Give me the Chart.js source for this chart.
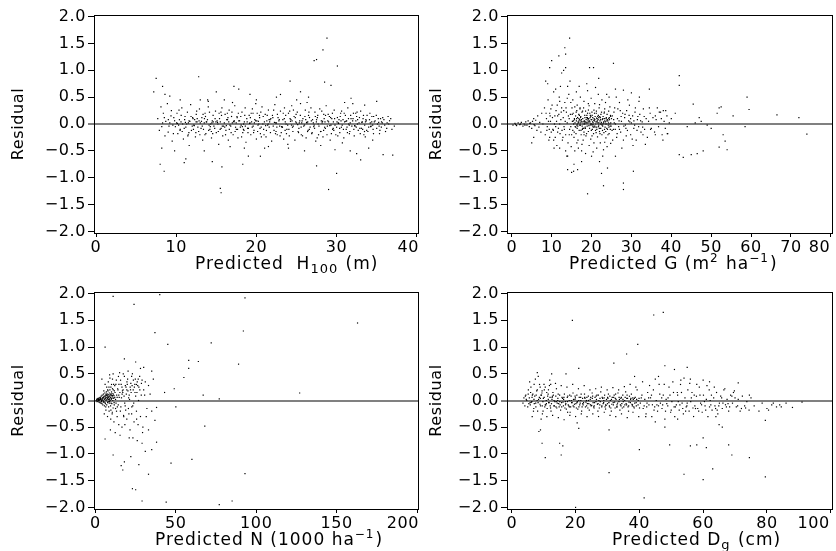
<!DOCTYPE html>
<html>
<head>
<meta charset="utf-8">
<script src="https://cdn.jsdelivr.net/npm/chart.js@4"></script>
<style>
  html, body { margin: 0; padding: 0; background: #fff; overflow: hidden; }
  #wrap { position: relative; width: 836px; height: 551px; }
  canvas { position: absolute; }
</style>
</head>
<body>
<div id="wrap">
  <canvas id="c1" width="440" height="278" style="left:0px;top:0px"></canvas>
  <canvas id="c2" width="418" height="278" style="left:418px;top:0px"></canvas>
  <canvas id="c3" width="440" height="276" style="left:0px;top:275px"></canvas>
  <canvas id="c4" width="418" height="276" style="left:418px;top:275px"></canvas>
</div>
<script>
// residual y-axis, shared by the four panels
var yTickValues = [-2, -1.5, -1, -0.5, 0, 0.5, 1, 1.5, 2];
var yTickLabels = ['\u22122.0', '\u22121.5', '\u22121.0', '\u22120.5', '0.0', '0.5', '1.0', '1.5', '2.0'];

var h100Ticks = [0, 10, 20, 30, 40];
var h100TickLabels = ['0', '10', '20', '30', '40'];
var gTicks = [0, 10, 20, 30, 40, 50, 60, 70, 80];
var gTickLabels = ['0', '10', '20', '30', '40', '50', '60', '70', '80'];
var nTicks = [0, 50, 100, 150, 200];
var nTickLabels = ['0', '50', '100', '150', '200'];
var dgTicks = [0, 20, 40, 60, 80, 100];
var dgTickLabels = ['0', '20', '40', '60', '80', '100'];

// predicted H100 (m), residual
var h100Points = [
[7.2,0.6],[7.5,0.85],[8.3,0.7],[8.6,0.55],[9.2,0.52],[12.8,0.88],[15.0,0.6],[16.0,0.45],[17.2,0.7],[17.8,0.65],[19.2,0.55],[22.5,0.5],[23.0,0.55],[24.2,0.8],[25.5,0.6],[26.5,0.5],[27.2,1.18],[27.5,1.2],[28.3,1.38],[28.8,1.6],[28.5,0.78],[29.3,0.72],[30.1,1.08],[31.8,0.48],[35.0,0.42],
[8.0,-0.75],[8.5,-0.88],[8.2,-0.45],[9.8,-0.5],[11.0,-0.72],[11.2,-0.65],[13.5,-0.5],[14.5,-0.7],[15.5,-1.2],[15.6,-1.28],[15.7,-0.8],[18.3,-0.75],[19.0,-0.6],[20.5,-0.6],[27.5,-0.78],[29.0,-1.22],[30.0,-0.92],[31.7,-0.5],[32.5,-0.55],[33.0,-0.67],[35.8,-0.57],[37.0,-0.58],[10.5,0.45],[14.0,0.42],[18.5,-0.45],[21.5,-0.42],[24.0,-0.45],[26.0,-0.5],[29.8,-0.48],[34.0,-0.45],[13.0,0.45],[20.0,0.45],[31.0,0.4],[33.5,0.35],[34.5,-0.3],
[7.7,0.1],[7.9,-0.12],[8.1,0.32],[8.2,-0.05],[8.4,0.2],[8.6,-0.22],[8.7,0.05],[8.9,0.38],[9.0,-0.15],[9.2,0.02],[9.4,0.25],[9.5,-0.32],[9.7,0.12],[9.9,-0.05],[10.1,0.2],[10.2,-0.18],[10.4,0.08],[10.5,-0.1],[10.7,0.3],[10.8,0.0],[10.9,-0.28],[11.1,0.14],[11.2,-0.06],[11.4,0.22],[11.5,-0.2],[11.7,0.05],[11.8,0.36],[11.9,-0.12],[12.1,0.1],[12.2,-0.02],[12.4,-0.24],[12.5,0.18],[12.6,0.04],[12.8,-0.14],[12.9,0.28],[13.1,-0.08],[13.2,0.12],[13.3,-0.3],[13.5,0.02],[13.6,0.2],[13.7,-0.18],[13.9,0.08],[14.0,0.32],[14.2,-0.1],[14.3,0.0],[14.4,-0.26],[14.6,0.16],[14.7,-0.04],[14.9,0.24],[15.0,-0.16],[15.1,0.06],[15.3,-0.38],[15.4,0.1],[15.6,-0.08],[15.7,0.3],[15.8,-0.22],[16.0,0.02],[16.1,0.18],[16.2,-0.12],[16.4,0.08],[16.5,-0.3],[16.6,0.26],[16.8,-0.04],[16.9,0.14],[17.1,-0.2],[17.2,0.04],[17.3,0.34],[17.5,-0.1],[17.6,0.12],[17.7,-0.26],[17.9,0.06],[18.0,-0.06],[18.2,0.22],[18.3,-0.16],[18.4,0.0],[18.6,0.3],[18.7,-0.34],[18.8,0.1],[19.0,-0.08],[19.1,0.16],[19.3,-0.2],[19.4,0.04],[19.5,0.28],[19.7,-0.12],[19.8,0.08],[20.0,-0.28],[20.1,0.2],[20.2,-0.02],[20.4,0.12],[20.5,-0.18],[20.7,0.32],[20.8,0.0],[20.9,-0.1],[21.1,0.18],[21.2,-0.24],[21.3,0.06],[21.5,0.26],[21.6,-0.06],[21.8,0.1],[21.9,-0.32],[22.0,0.16],[22.2,-0.12],[22.3,0.36],[22.4,0.02],[22.6,-0.2],[22.7,0.12],[22.9,-0.04],[23.0,0.24],[23.1,-0.16],[23.3,0.08],[23.4,-0.28],[23.5,0.3],[23.7,0.0],[23.8,-0.1],[24.0,0.2],[24.1,-0.22],[24.2,0.1],[24.4,0.34],[24.5,-0.06],[24.7,0.14],[24.8,-0.3],[24.9,0.04],[25.1,0.22],[25.2,-0.14],[25.4,0.06],[25.5,0.38],[25.6,-0.2],[25.8,0.1],[25.9,-0.04],[26.1,0.26],[26.2,-0.26],[26.3,0.02],[26.5,0.16],[26.6,-0.1],[26.8,0.3],[26.9,-0.18],[27.0,0.08],[27.2,-0.02],[27.3,0.22],[27.4,-0.32],[27.6,0.12],[27.7,0.0],[27.9,0.28],[28.0,-0.14],[28.1,0.06],[28.3,-0.24],[28.4,0.18],[28.5,-0.06],[28.7,0.34],[28.8,-0.2],[29.0,0.04],[29.1,0.14],[29.2,-0.3],[29.4,0.1],[29.5,-0.1],[29.7,0.26],[29.8,-0.02],[29.9,-0.2],[30.1,0.12],[30.2,0.02],[30.4,-0.16],[30.5,0.2],[30.6,-0.06],[30.8,0.08],[30.9,-0.26],[31.1,0.16],[31.2,-0.1],[31.4,0.3],[31.5,0.0],[31.6,-0.18],[31.8,0.1],[31.9,-0.04],[32.1,0.2],[32.2,-0.22],[32.4,0.06],[32.5,0.14],[32.7,-0.12],[32.8,0.02],[33.0,0.24],[33.1,-0.08],[33.3,0.1],[33.4,-0.2],[33.6,0.04],[33.8,0.16],[33.9,-0.14],[34.1,0.08],[34.3,-0.04],[34.4,0.14],[34.6,-0.18],[34.8,0.06],[35.0,-0.08],[35.2,0.1],[35.4,-0.12],[35.6,0.04],[35.9,0.08],[36.1,-0.14],[36.3,0.02],[36.6,0.06],[36.9,-0.1],[37.2,-0.04],
[8.3,0.02],[9.1,-0.04],[9.8,0.06],[10.3,-0.02],[10.6,0.04],[11.0,-0.08],[11.3,0.0],[11.6,0.06],[12.0,-0.04],[12.3,0.08],[12.7,-0.06],[13.0,0.02],[13.4,-0.1],[13.8,0.04],[14.1,-0.02],[14.5,0.06],[14.8,-0.08],[15.2,0.0],[15.5,0.04],[15.9,-0.04],[16.3,0.08],[16.7,-0.02],[17.0,0.02],[17.4,-0.06],[17.8,0.06],[18.1,-0.02],[18.5,0.04],[18.9,-0.08],[19.2,0.02],[19.6,-0.04],[19.9,0.06],[20.3,0.0],[20.6,-0.06],[21.0,0.04],[21.4,-0.02],[21.7,0.08],[22.1,-0.04],[22.5,0.02],[22.8,0.06],[23.2,-0.06],[23.6,0.04],[23.9,-0.02],[24.3,0.08],[24.6,-0.04],[25.0,0.02],[25.3,-0.08],[25.7,0.06],[26.0,-0.02],[26.4,0.04],[26.7,-0.06],[27.1,0.02],[27.5,0.08],[27.8,-0.04],[28.2,0.02],[28.6,-0.08],[28.9,0.06],[29.3,-0.02],[29.6,0.04],[30.0,-0.06],[30.3,0.08],[30.7,-0.02],[31.0,0.04],[31.3,-0.06],[31.7,0.02],[32.0,0.06],[32.3,-0.04],[32.6,0.0],[32.9,-0.08],[33.2,0.04],[33.5,-0.02],[33.7,0.06],[34.0,-0.06],[34.2,0.02],[34.5,-0.02],[34.7,0.04],[35.1,0.0],[35.3,-0.04],[35.7,0.02],[36.0,-0.02],[36.5,0.0],
[12.05,0.12],[12.45,-0.16],[12.85,0.06],[13.25,-0.04],[13.65,0.14],[14.05,-0.12],[14.45,0.02],[14.85,0.1],[15.25,-0.14],[15.65,0.16],[16.05,-0.06],[16.45,0.12],[16.85,-0.16],[17.25,0.06],[17.65,-0.1],[18.05,0.14],[18.45,-0.12],[18.85,0.04],[19.25,0.12],[19.65,-0.16],[20.05,0.06],[20.45,-0.08],[20.85,0.14],[21.25,-0.12],[21.65,0.04],[22.05,0.12],[22.45,-0.14],[22.85,0.08],[23.25,-0.06],[23.65,0.16],[24.05,-0.1],[24.45,0.06],[24.85,0.12],[25.25,-0.16],[25.65,0.02],[26.05,0.14],[26.45,-0.12],[26.85,0.06],[27.25,-0.08],[27.65,0.16],[28.05,-0.14],[28.45,0.1],[28.85,-0.04],[29.25,0.12],[29.65,-0.12],[30.05,0.04],[30.45,0.14],[30.85,-0.1],[31.25,0.06],[31.65,-0.14],[32.05,0.1],[32.45,-0.06],[32.85,0.12],[33.25,-0.1],[33.65,0.08],
[9.35,0.15],[9.65,-0.18],[10.05,0.02],[10.35,0.26],[10.75,-0.14],[11.05,0.08],[11.45,-0.22],[11.85,0.14],[12.15,-0.1],[12.55,0.24],[12.95,-0.2],[13.35,0.18],[13.75,0.04],[14.15,0.22],[14.55,-0.18],[14.95,0.04],[15.35,0.2],[15.75,-0.04],[16.15,-0.2],[16.55,0.04],[16.95,0.22],[17.35,-0.14],[17.75,0.2],[18.15,-0.24],[18.55,0.16],[18.95,-0.16],[19.35,0.2],[19.75,0.02],[20.15,-0.14],[20.55,0.22],[20.95,-0.2],[21.35,0.16],[21.75,-0.16],[22.15,0.26],[22.55,-0.06],[22.95,-0.22],[23.35,0.2],[23.75,-0.18],[24.15,0.24],[24.55,-0.14],[24.95,0.18],[25.35,0.02],[25.75,-0.22],[26.15,0.08],[26.55,0.22],[26.95,-0.16],[27.35,0.14],[27.75,-0.2],[28.15,0.24],[28.55,0.04],[28.95,0.18],[29.35,-0.18],[29.75,0.1],[30.15,-0.22],[30.55,0.06],[30.95,0.2],[31.35,-0.16],[31.75,0.16],[32.15,-0.1],[32.55,0.22],[32.95,-0.18],[33.35,0.16],[33.75,-0.12],[34.15,0.2],[34.55,-0.1],[34.95,0.16],[35.35,-0.18],[35.75,0.12],[36.25,-0.08],[36.75,0.1],
[10.15,0.01],[11.15,0.03],[12.25,-0.03],[13.15,0.05],[14.25,-0.05],[15.15,0.03],[16.25,-0.03],[17.15,0.05],[18.25,-0.05],[19.15,0.01],[20.25,0.05],[21.15,-0.03],[22.25,0.03],[23.15,-0.05],[24.25,0.05],[25.15,-0.01],[26.25,0.03],[27.15,-0.05],[28.25,0.05],[29.15,-0.03],[30.25,0.01],[31.15,0.05],[32.25,-0.03],[33.15,0.03],[34.25,-0.05],[35.25,0.03],
[8.52,0.12],[9.58,-0.02],[10.62,0.16],[11.58,-0.16],[12.62,0.1],[13.58,-0.2],[14.62,0.04],[15.58,0.22],[16.62,-0.1],[17.58,0.14],[18.62,-0.04],[19.58,0.2],[20.62,-0.24],[21.58,0.08],[22.62,0.18],[23.58,-0.12],[24.62,0.26],[25.58,-0.06],[26.62,0.12],[27.58,-0.26],[28.62,0.16],[29.58,-0.08],[30.62,0.24],[31.58,-0.02],[32.62,0.08],[33.58,-0.24],[34.62,0.14],[35.58,-0.06],[36.42,0.14],[9.02,0.08],[10.48,-0.12],[11.52,0.02],[12.48,0.04],[13.52,0.1],[14.38,-0.14],[15.48,-0.1],[16.38,0.2],[17.48,0.02],[18.38,-0.1],[19.48,-0.06],[20.38,0.16],[21.48,0.0],[22.38,-0.18],[23.48,0.1],[24.38,-0.02],[25.48,0.16],[26.38,-0.14],[27.48,0.04],[28.38,-0.12],[29.48,0.2],[30.38,-0.08],[31.48,0.1],[32.38,0.2],[33.48,-0.14],[34.38,0.04],[35.48,0.1],[13.92,0.45],[17.02,0.4],[21.02,-0.45],[25.02,0.45],[28.02,-0.4],[32.02,0.38],[11.62,-0.4],[19.92,0.38],[23.92,-0.38],[30.72,-0.35],[26.32,0.4],[16.72,-0.42]
];

// predicted G (m2/ha), residual
var gPoints = [
[0.3,-0.02],[0.8,0.01],[1.2,-0.03],[1.6,0.02],[2.0,-0.01],[2.4,0.03],[2.8,-0.04],[3.1,0.0],[3.5,0.04],[3.8,-0.02],[4.1,0.06],[4.4,-0.05],[4.7,0.02],[5.0,-0.08],[5.2,0.05],[5.5,0.1],[5.8,-0.03],[6.0,0.07],[6.3,-0.12],[6.5,0.15],[6.8,-0.06],[7.0,0.03],[7.3,-0.15],[7.5,0.2],[7.8,0.0],[1.0,-0.01],[2.2,0.0],[3.3,-0.02],[4.5,0.01],[5.6,-0.01],
[8.2,0.3],[8.4,-0.2],[8.7,0.1],[8.9,-0.05],[9.1,0.45],[9.3,-0.3],[9.5,0.2],[9.7,0.05],[9.9,-0.15],[10.1,0.35],[10.3,-0.1],[10.5,0.6],[10.7,0.0],[10.9,-0.25],[11.1,0.25],[11.3,-0.4],[11.5,0.15],[11.7,-0.08],[11.9,0.5],[12.1,-0.18],[12.3,0.08],[12.5,0.3],[12.7,-0.3],[12.9,0.12],[13.1,-0.05],[13.3,0.4],[13.5,-0.2],[13.7,0.22],[13.9,0.02],[14.1,-0.35],[14.3,0.55],[14.5,-0.1],[14.7,0.18],[14.9,-0.42],[15.1,0.3],[8.6,0.2],[9.4,-0.1],[10.2,0.12],[11.0,-0.05],[11.8,0.18],[12.6,-0.12],[13.4,0.05],[14.2,0.15],[15.0,-0.2],[10.6,-0.45],[12.2,0.7],[13.8,-0.6],[14.6,0.8],[11.4,0.35],[9.8,0.28],
[15.2,0.05],[15.3,-0.12],[15.4,0.2],[15.5,0.0],[15.6,-0.25],[15.7,0.1],[15.8,0.32],[15.9,-0.05],[16.0,0.15],[16.1,-0.18],[16.2,0.06],[16.3,0.25],[16.4,-0.08],[16.5,0.12],[16.6,-0.3],[16.7,0.02],[16.8,0.18],[16.9,-0.12],[17.0,0.08],[17.1,0.28],[17.2,-0.02],[17.3,0.14],[17.4,-0.2],[17.5,0.04],[17.6,0.22],[17.7,-0.1],[17.8,0.1],[17.9,0.0],[18.0,0.3],[18.1,-0.15],[18.2,0.06],[18.3,0.16],[18.4,-0.06],[18.5,0.24],[18.6,-0.22],[18.7,0.02],[18.8,0.12],[18.9,-0.04],[19.0,0.2],[19.1,0.06],[19.2,-0.14],[19.3,0.1],[19.4,0.34],[19.5,-0.08],[19.6,0.04],[19.7,0.16],[19.8,-0.28],[19.9,0.08],[20.0,0.0],[20.1,0.22],[20.2,-0.1],[20.3,0.12],[20.4,0.02],[20.5,-0.18],[20.6,0.26],[20.7,0.06],[20.8,-0.04],[20.9,0.14],[21.0,-0.12],[21.1,0.04],[21.2,0.2],[21.3,-0.06],[21.4,0.1],[21.5,-0.24],[21.6,0.02],[21.7,0.16],[21.8,-0.02],[21.9,0.3],[22.0,-0.14],[22.1,0.06],[22.2,0.12],[22.3,-0.08],[22.4,0.0],[22.5,0.22],[22.6,-0.2],[22.7,0.08],[22.8,-0.04],[22.9,0.14],[23.0,0.02],[23.1,-0.16],[23.2,0.1],[23.3,0.28],[23.4,-0.06],[23.5,0.04],[23.6,-0.26],[23.7,0.12],[23.8,0.0],[23.9,0.18],[24.0,-0.1],[24.1,0.06],[24.2,-0.02],[24.3,0.24],[24.4,-0.18],[24.5,0.08],[24.6,0.0],[24.7,-0.1],[24.8,0.14],[24.9,-0.04],[25.0,0.1],
[15.45,0.06],[15.85,0.02],[16.25,0.1],[16.65,0.04],[17.05,-0.02],[17.45,0.08],[17.85,0.04],[18.25,0.0],[18.65,0.08],[19.05,0.02],[19.45,0.06],[19.85,-0.02],[20.25,0.04],[20.65,0.1],[21.05,0.0],[21.45,0.06],[21.85,0.02],[22.25,0.08],[22.65,-0.02],[23.05,0.04],[23.45,0.0],[23.85,0.06],[24.25,0.02],[24.65,-0.04],[16.05,-0.06],[17.25,0.12],[18.45,-0.08],[19.65,0.12],[20.85,-0.06],[22.05,0.14],[23.25,-0.1],[24.45,0.12],[18.15,0.05],[19.35,-0.03],[20.55,0.07],[21.75,-0.05],[16.85,0.06],[17.65,-0.04],[19.15,0.09],[20.35,-0.01],[21.25,0.11],[22.45,0.03],
[15.3,0.45],[15.8,-0.5],[16.2,0.6],[16.7,-0.45],[17.2,0.5],[17.6,-0.38],[18.1,0.42],[18.5,-0.55],[19.0,0.62],[19.4,-0.4],[19.9,0.48],[20.4,-0.52],[20.8,0.38],[21.3,-0.45],[21.7,0.55],[22.2,-0.35],[22.6,0.45],[23.0,-0.48],[23.5,0.4],[23.9,-0.42],[24.4,0.5],[24.8,-0.36],[16.4,0.35],[17.9,-0.3],[19.2,0.38],[20.6,-0.35],[22.0,0.36],[23.3,-0.34],[24.6,0.32],[15.6,-0.75],[17.5,-0.7],[21.0,0.68],[23.8,0.55],[18.8,0.75],[22.8,-0.6],[16.9,0.7],
[25.2,0.15],[25.5,-0.1],[25.8,0.3],[26.0,0.0],[26.3,-0.25],[26.5,0.1],[26.8,-0.05],[27.0,0.4],[27.3,-0.15],[27.5,0.05],[27.8,0.2],[28.0,-0.3],[28.3,0.12],[28.5,-0.02],[28.8,0.25],[29.0,-0.12],[29.3,0.06],[29.5,0.35],[29.8,-0.2],[30.0,0.02],[30.3,0.15],[30.6,-0.08],[30.9,0.22],[31.2,-0.3],[31.5,0.08],[31.8,-0.05],[32.1,0.18],[32.4,-0.15],[32.7,0.04],[33.0,0.28],[33.3,-0.1],[33.7,0.1],[34.0,-0.25],[34.3,0.05],[34.7,0.2],[35.0,-0.08],[35.4,0.12],[35.8,-0.15],[26.2,0.5],[27.6,-0.45],[29.1,0.45],[30.4,-0.4],[31.9,0.42],[33.5,-0.38],[25.7,0.02],[26.9,0.06],[28.1,-0.04],[29.6,0.04],[30.8,-0.02],[32.3,0.06],[25.3,-0.3],[27.2,0.25],[28.7,-0.22],[31.0,0.3],[32.9,-0.2],[34.5,0.3],
[36.2,0.08],[36.8,-0.05],[37.3,0.22],[37.7,-0.2],[38.2,0.05],[38.6,0.25],[39.1,-0.18],[39.5,0.02],[36.5,0.3],[37.9,-0.3],[38.9,0.15],
[14.4,0.1],[14.8,-0.05],[15.15,0.18],[15.65,-0.15],[16.15,0.22],[16.55,-0.04],[16.95,0.16],[17.35,-0.12],[17.75,0.24],[18.05,-0.08],[18.35,0.12],[18.75,-0.18],[19.05,0.1],[19.55,0.2],[19.95,-0.12],[20.15,0.16],[20.45,-0.06],[20.75,0.2],[21.15,-0.16],[21.55,0.14],[21.95,-0.08],[22.35,0.18],[22.75,-0.12],[23.15,0.2],[23.55,-0.14],[23.95,0.08],[24.35,-0.06],[24.75,0.16],[25.15,-0.12],[25.55,0.08],[25.95,-0.1],[17.15,0.02],[18.55,0.04],[19.75,0.0],[21.35,0.04],[22.85,0.0],[20.05,0.08],[18.95,0.12],[21.65,0.08],[16.45,0.0],[23.65,0.1],[11.5,-0.15],[12.4,0.22],[13.2,-0.1],[13.6,0.3],[14.8,0.4],[10.8,0.15],[9.2,0.05],[8.8,-0.12],[12.0,0.0],[27.0,-0.1],[28.4,0.18],[29.8,0.1],[31.4,-0.12],[33.2,0.14],[26.6,0.28],[30.2,-0.28],[34.8,-0.1],[36.0,-0.2],[37.5,0.1],
[15.72,0.08],[16.32,-0.02],[16.82,0.1],[17.32,0.06],[17.82,-0.08],[18.32,0.02],[18.82,0.16],[19.32,0.04],[19.82,0.14],[20.32,-0.04],[20.82,0.08],[21.32,-0.1],[21.82,0.12],[22.32,0.0],[22.82,0.1],[23.32,0.06],[23.82,-0.08],[24.32,0.1],[24.82,0.02],[18.12,-0.2],[19.22,0.26],[20.12,-0.22],[21.22,0.24],[22.12,-0.18],[23.22,0.22],[17.12,0.3],[24.12,-0.2],[16.32,-0.35],[25.62,0.22],[26.42,-0.18],[27.42,0.14],[28.62,-0.08],[29.42,0.16],[30.62,0.06],[31.62,0.14],[32.82,-0.06],[11.22,0.05],[12.82,-0.25],[13.02,0.25],[14.42,-0.2],[10.42,-0.12],[9.62,0.15],[12.02,0.42],[13.92,0.48],
[14.5,1.6],[13.3,1.42],[13.5,1.3],[11.8,1.27],[10.0,1.18],[9.5,1.05],[13.5,1.05],[13.0,1.0],[12.5,0.95],[19.5,1.05],[20.5,1.05],[25.5,1.13],[21.8,0.85],[8.5,0.8],[9.0,0.75],[11.0,0.65],[14.0,0.7],[26.0,0.65],[28.0,0.63],[30.0,0.58],[34.5,0.65],[32.0,0.5],
[14.0,-0.85],[15.0,-0.9],[15.5,-0.88],[16.5,-0.85],[20.0,-0.6],[22.0,-0.7],[24.0,-0.82],[22.5,-0.92],[23.0,-1.15],[19.0,-1.3],[28.0,-1.1],[28.0,-1.22],[30.5,-0.88],[26.0,-0.6],[13.5,-0.5],[14.0,-0.6],[17.5,-0.5],[12.0,-0.45],[10.5,-0.3],[9.5,-0.25],[5.0,-0.35],[5.5,-0.25],
[42.0,0.9],[42.0,0.72],[45.5,0.37],[46.0,0.02],[47.0,0.12],[43.0,-0.62],[42.0,-0.57],[45.0,-0.57],[46.5,-0.55],[48.0,-0.5],[51.5,0.2],[52.0,0.3],[52.5,0.32],[53.0,-0.2],[52.0,-0.43],[53.5,-0.32],[54.0,-0.48],[55.5,0.15],[58.5,-0.05],[59.0,0.5],[59.5,0.27],[66.5,0.17],[72.0,0.12],[74.0,-0.19],[40.0,0.1],[41.0,0.2],[44.0,-0.05],[49.0,-0.02],[50.0,-0.08],[47.5,0.05],[38.0,0.25],[39.0,-0.18],[37.0,0.22],[36.0,0.15],[38.5,-0.08]
];

// predicted N (1000/ha), residual
var nPoints = [
[0.5,0.0],[0.8,0.02],[1.0,-0.02],[1.2,0.03],[1.5,-0.01],[1.7,0.04],[2.0,0.0],[2.2,-0.03],[2.4,0.05],[2.6,0.01],[2.8,-0.04],[3.0,0.06],[3.2,0.02],[3.4,-0.05],[3.6,0.08],[3.8,0.0],[4.0,-0.06],[4.2,0.1],[4.4,0.03],[4.6,-0.08],[4.8,0.06],[5.0,0.12],[5.2,-0.02],[5.4,0.08],[5.6,-0.1],[5.8,0.14],[6.0,0.04],[6.2,-0.06],[6.4,0.1],[6.6,0.0],[6.8,0.16],[7.0,-0.08],[7.2,0.06],[7.4,0.12],[7.6,-0.04],[7.8,0.18],[8.0,0.02],[8.2,-0.12],[8.4,0.08],[8.6,0.14],[8.8,-0.02],[9.0,0.2],[9.2,0.06],[9.4,-0.1],[9.6,0.1],[9.8,0.02],[10.0,0.16],[10.2,-0.06],[10.4,0.08],[10.6,0.22],[10.8,0.0],[11.0,-0.14],[11.2,0.12],[11.4,0.04],[11.6,-0.04],[11.8,0.18],[12.0,0.06],
[3.1,0.04],[4.1,0.02],[5.1,0.05],[6.1,0.08],[7.1,0.02],[8.1,0.06],[9.1,0.0],[10.1,0.04],[5.5,0.02],[6.5,0.06],[7.5,0.04],[8.5,0.02],[9.5,0.05],[6.9,0.1],[7.9,-0.02],[8.9,0.08],[4.7,0.0],[5.9,-0.04],[7.3,0.09],[8.7,0.03],[9.9,0.1],[10.9,0.05],[11.5,0.09],[12.5,0.02],[2.5,0.01],[3.5,0.03],[1.9,0.02],[6.7,0.12],[8.3,0.11],[9.7,-0.05],[4.9,-0.03],[10.3,0.13],[11.7,-0.08],
[1.4,0.01],[2.1,0.03],[2.9,0.02],[3.7,-0.02],[4.3,0.05],[5.3,0.07],[6.3,0.03],[7.7,0.07],[8.6,-0.05],[9.3,0.12],[10.7,0.09],[11.1,0.2],[12.2,0.15],[13.5,0.06],[14.5,0.1],[6.4,-0.12],[7.6,0.2],[8.4,0.25],[9.6,-0.18],[10.4,-0.25],[5.2,0.18],[12.7,0.3],[13.1,-0.2],[16.5,0.25],[19.5,0.2],[22.5,0.45],[25.5,0.3],
[19.6,0.35],[21.6,0.25],[23.6,0.38],[24.6,0.15],[26.6,0.4],[27.6,0.2],[28.6,0.32],[20.6,0.05],[22.6,-0.12],[18.6,0.28],[16.6,0.12],[14.6,0.3],[13.6,-0.12],[15.6,0.38],[17.6,-0.3],[25.6,-0.35],[30.6,0.1],[31.6,-0.3],[10.6,0.4],[9.6,0.25],
[5.5,-0.25],[6.0,0.3],[6.5,-0.18],[7.0,0.25],[7.5,-0.3],[8.0,0.35],[8.5,-0.2],[9.0,0.42],[9.5,-0.35],[10.0,0.3],[10.5,-0.22],[11.0,0.5],[11.5,-0.4],[12.0,0.28],[12.5,-0.15],[13.0,0.38],[13.5,-0.3],[14.0,0.2],[14.5,-0.45],[15.0,0.52],[15.5,-0.2],[16.0,0.3],[16.5,-0.5],[17.0,0.15],[17.5,-0.28],[18.0,0.45],[18.5,-0.1],[19.0,0.25],[19.5,-0.35],[20.0,0.4],[20.5,-0.15],[21.0,0.1],[21.5,-0.55],[22.0,0.32],[22.5,-0.25],[23.0,0.5],[23.5,0.2],[24.0,-0.4],[24.5,0.3],[25.0,0.08],[25.5,-0.2],[26.0,0.35],[26.5,-0.45],[27.0,0.25],[27.5,0.45],[28.0,-0.3],[28.5,0.1],[29.0,0.38],[29.5,-0.5],[30.0,0.2],[31.0,0.35],[32.0,-0.15],[33.0,0.28],[34.0,0.12],[35.0,-0.2],[36.0,0.4],
[13.2,0.1],[14.2,-0.08],[15.2,0.15],[16.2,0.05],[17.2,0.2],[18.2,-0.05],[19.2,0.12],[20.2,0.18],[21.2,0.02],[22.2,0.15],[23.2,-0.1],[24.2,0.25],[12.8,-0.05],[13.8,0.22],[14.8,0.06],[15.8,-0.12],[16.8,0.18],[17.8,0.08],[18.8,-0.18],[19.8,0.3],[20.8,-0.25],[21.8,0.2],[22.8,0.28],[23.8,-0.05],[24.8,0.4],[25.8,0.15],[26.8,0.0],[9.3,-0.55],[12.3,-0.6],[15.3,-0.65],[18.3,-0.45],[8.8,0.48],[11.3,0.3],[14.3,0.45],[17.3,0.5],[20.3,0.55],[23.3,-0.7],[26.3,0.28],[29.3,-0.6],
[11.0,1.95],[24.0,1.8],[40.0,1.98],[93.0,1.92],[163.0,1.45],[37.0,1.27],[92.0,1.3],[45.0,1.05],[72.0,1.08],[6.0,1.0],[58.0,0.75],[64.0,0.73],[89.0,0.68],[58.0,0.6],[55.0,0.43],[49.0,0.22],[67.0,0.1],[77.0,0.03],[127.0,0.14],[43.0,0.15],[18.0,0.78],[4.0,0.4],[28.0,0.6],[30.0,0.62],[35.0,0.55],[25.0,0.72],
[50.0,-0.12],[38.0,-0.13],[37.0,-0.37],[38.0,-0.78],[33.0,-0.55],[35.0,-0.92],[31.0,-0.95],[47.0,-1.17],[60.0,-1.1],[68.0,-0.48],[93.0,-1.37],[33.0,-1.38],[11.0,-1.02],[16.0,-1.22],[17.0,-1.3],[18.0,-1.15],[23.0,-1.65],[25.0,-1.67],[27.0,-1.2],[29.0,-1.88],[44.0,-1.9],[77.0,-1.95],[85.0,-1.88],[6.0,-0.72],[22.0,-1.05],[21.0,-0.7],[26.0,-0.75],[29.0,-0.8]
];

// predicted Dg (cm), residual
var dgPoints = [
[3.5,-0.05],[3.8,0.05],[4.1,-0.1],[4.4,0.1],[4.7,0.0],[5.0,-0.12],[5.2,0.2],[5.5,0.05],[5.8,-0.08],[6.0,0.25],[6.3,-0.02],[6.6,0.12],[6.9,-0.15],[7.2,0.08],[7.5,-0.05],[7.8,0.18],[8.1,-0.2],[8.4,0.02],[8.7,0.3],[9.0,-0.1],[9.3,0.1],[9.6,-0.25],[9.9,0.04],[10.2,0.2],[10.5,-0.08],[10.8,0.0],[11.1,-0.15],[11.4,0.12],[11.7,-0.04],[12.0,0.06],[12.3,-0.2],[12.6,0.02],[12.9,0.15],[13.2,-0.1],[13.5,-0.02],[13.8,0.08],[14.1,-0.14],[14.4,0.0],[14.7,-0.06],[15.0,0.1],[15.3,-0.18],[15.6,-0.04],[15.9,0.04],[16.2,-0.1],[16.5,0.12],[16.8,-0.02],[17.1,-0.16],[17.4,0.06],[17.7,-0.08],[18.0,0.0],[18.3,-0.22],[18.6,0.08],[18.9,-0.04],[19.2,0.14],[19.5,-0.12],[19.8,0.02],[20.1,-0.06],[20.4,0.1],[20.7,-0.16],[21.0,0.0],[21.3,-0.08],[21.6,0.06],[21.9,-0.2],[22.2,0.04],[22.5,-0.04],[22.8,0.12],[23.1,-0.12],[23.4,0.0],[23.7,-0.06],[24.0,0.08],[24.3,-0.18],[24.6,0.02],[24.9,-0.1],[25.2,0.14],[25.5,-0.04],[25.8,-0.14],[26.1,0.06],[26.4,-0.02],[26.7,0.1],[27.0,-0.2],[27.3,0.0],[27.6,-0.08],[27.9,0.16],[28.2,-0.12],[28.5,0.04],[28.8,-0.04],[29.1,0.1],[29.4,-0.16],[29.7,0.02],[30.0,-0.06],[30.3,0.12],[30.6,-0.1],[30.9,0.0],[31.2,-0.2],[31.5,0.06],[31.8,-0.04],[32.1,0.1],[32.4,-0.14],[32.7,0.02],[33.0,-0.08],[33.3,0.14],[33.6,-0.02],[33.9,-0.18],[34.2,0.04],[34.5,-0.06],[34.8,0.1],[35.1,-0.12],[35.4,0.0],[35.7,0.16],[36.0,-0.08],[36.3,0.04],[36.6,-0.2],[36.9,0.08],[37.2,-0.04],[37.5,0.12],[37.8,-0.1],[38.1,0.02],[38.4,-0.14],[38.7,0.06],[39.0,-0.04],[39.3,0.2],[39.6,-0.08],[39.9,0.04],
[6.15,-0.03],[7.05,-0.06],[7.95,0.0],[8.85,-0.07],[9.75,-0.02],[10.65,-0.08],[11.55,-0.04],[12.45,-0.06],[13.35,-0.1],[14.25,-0.05],[15.15,-0.08],[16.05,-0.03],[16.95,-0.06],[17.85,-0.1],[18.75,-0.04],[19.65,-0.07],[20.55,-0.02],[21.45,-0.05],[22.35,-0.08],[23.25,-0.03],[24.15,-0.06],[25.05,-0.09],[25.95,-0.04],[26.85,-0.07],[27.75,-0.02],[28.65,-0.06],[29.55,-0.09],[30.45,-0.04],[31.35,-0.07],[32.25,-0.03],[33.15,-0.05],[34.05,-0.08],[34.95,-0.02],[35.85,-0.06],[36.75,-0.03],[37.65,-0.07],[38.55,-0.05],[9.15,0.1],[10.95,0.15],[12.75,0.08],[14.55,0.12],[16.35,0.06],[18.15,0.1],[19.95,0.05],[21.75,0.12],[23.55,0.06],[25.35,0.08],[27.15,0.1],[28.95,0.05],[30.75,0.08],[32.55,0.12],[34.35,0.06],[36.15,0.1],[37.95,0.05],
[4.25,0.08],[5.35,-0.06],[6.45,0.1],[7.55,-0.12],[8.65,0.06],[9.45,0.14],[10.35,-0.12],[11.25,0.08],[12.15,-0.14],[13.05,0.1],[13.95,-0.02],[14.85,-0.12],[15.75,0.06],[16.65,-0.14],[17.55,0.08],[18.45,-0.12],[19.35,0.02],[20.25,-0.14],[21.15,0.06],[22.05,-0.12],[22.95,0.04],[23.85,-0.14],[24.75,0.06],[25.65,-0.12],[26.55,0.02],[27.45,-0.14],[28.35,0.06],[29.25,-0.12],[30.15,0.04],[31.05,-0.14],[31.95,0.06],[32.85,-0.12],[33.75,0.02],[34.65,-0.14],[35.55,0.06],[36.45,-0.12],[37.35,0.04],[38.25,-0.12],[39.15,0.02],[40.05,-0.14],[41.5,-0.1],[42.9,0.05],[44.6,-0.18],[46.4,0.12],[47.3,-0.08],[49.0,0.05],[50.0,-0.18],[51.9,0.15],[53.6,-0.15],[55.0,-0.05],[57.2,0.1],[58.6,-0.2],[60.4,-0.02],[62.6,0.1],[64.4,-0.18],[66.2,-0.05],[68.3,-0.12],[70.0,0.05],[72.0,-0.15],[5.9,0.15],[8.9,0.25],[11.8,0.28],[6.8,-0.2],[9.8,-0.2],[12.2,0.3],
[4.55,0.02],[5.15,0.12],[5.75,-0.04],[6.35,0.06],[6.95,0.02],[7.65,0.1],[8.25,-0.04],[8.95,0.04],[9.55,-0.1],[10.15,0.06],[10.85,-0.06],[11.45,0.02],[12.05,-0.1],[12.65,0.06],[13.25,0.0],[13.85,-0.12],[14.45,0.04],[15.05,-0.02],[15.65,-0.12],[16.25,0.02],[16.85,-0.08],[17.45,-0.02],[18.05,-0.12],[18.65,0.0],[19.25,-0.1],[19.85,0.08],[20.45,-0.04],[21.05,-0.12],[21.65,0.0],[22.25,-0.06],[22.85,0.06],[23.45,-0.1],[24.05,0.0],[24.65,-0.08],[25.25,0.04],[25.85,-0.1],[26.45,0.08],[27.05,-0.06],[27.65,0.04],[28.25,-0.1],[28.85,0.0],[29.45,-0.08],[30.05,0.06],[30.65,-0.12],[31.25,0.02],[31.85,-0.08],[32.45,0.04],[33.05,-0.12],[33.65,0.06],[34.25,-0.1],[34.85,0.02],[35.45,-0.08],[36.05,0.04],[36.65,-0.1],[37.25,0.02],[37.85,-0.08],[38.45,0.04],[39.05,-0.1],[39.65,0.0],[40.6,0.05],[42.3,-0.12],[43.8,0.1],[45.5,-0.08],[47.0,0.05],[48.2,-0.2],[49.6,0.1],[51.3,-0.12],[52.2,-0.02],[53.2,0.15],[54.5,-0.2],[56.3,0.05],[57.6,-0.15],[59.0,0.1],[60.8,-0.18],[62.2,0.0],[63.9,-0.15],[65.8,0.05],[67.3,-0.12],[69.0,0.08],
[5.6,0.35],[6.4,-0.3],[7.4,0.4],[8.3,0.45],[9.2,-0.35],[10.1,0.3],[11.0,-0.3],[11.9,0.38],[12.8,-0.28],[13.7,0.32],[14.6,-0.32],[15.5,0.28],[16.4,-0.36],[17.3,0.25],[18.2,-0.28],[19.1,0.3],[20.0,-0.3],[20.9,0.22],[21.8,-0.25],[22.7,0.28],[23.6,-0.3],[24.5,0.2],[25.4,-0.25],[26.3,0.22],[27.2,-0.3],[28.1,0.25],[29.0,-0.22],[29.9,0.2],[30.8,-0.28],[31.7,0.24],[32.6,-0.3],[33.5,0.2],[34.4,-0.25],[35.3,0.26],[36.2,-0.32],[37.1,0.3],[38.0,-0.22],[38.9,0.25],[39.8,-0.3],[7.0,0.3],[10.5,0.25],[14.0,0.22],[17.5,-0.22],[8.0,0.2],[9.5,0.18],[11.5,0.2],
[40.3,-0.05],[40.8,0.1],[41.2,-0.15],[41.7,0.02],[42.1,-0.25],[42.6,0.15],[43.0,-0.08],[43.5,0.05],[43.9,-0.3],[44.4,0.2],[44.8,-0.12],[45.3,0.0],[45.7,-0.2],[46.2,0.3],[46.6,-0.05],[47.1,-0.15],[47.5,0.1],[48.0,-0.35],[48.4,0.02],[48.9,-0.1],[49.3,0.25],[49.8,-0.22],[50.2,-0.02],[50.7,0.15],[51.1,-0.3],[51.6,-0.08],[52.0,0.1],[52.5,-0.18],[52.9,0.3],[53.4,-0.05],[53.8,-0.25],[54.3,0.05],[54.7,-0.12],[55.2,0.2],[55.6,-0.2],[56.1,-0.02],[56.5,0.15],[57.0,-0.3],[57.4,-0.1],[57.9,0.08],[58.3,-0.15],[58.8,0.25],[59.2,-0.05],[59.7,-0.22],[60.1,0.1],[60.6,-0.1],[61.0,0.02],[61.5,-0.3],[61.9,0.2],[62.4,-0.08],[62.8,-0.18],[63.3,0.05],[63.7,-0.1],[64.2,0.15],[64.6,-0.25],[65.1,-0.05],[65.5,0.08],[66.0,-0.15],[66.5,0.2],[67.0,-0.08],[67.5,0.02],[68.0,-0.2],[68.6,0.1],[69.2,-0.05],[69.8,0.18],[70.4,-0.12],[71.0,0.02],[71.6,-0.2],[72.3,0.08],[73.0,-0.1],[73.7,-0.02],[74.4,-0.18],[75.0,0.05],
[41.0,0.35],[43.2,0.28],[45.0,0.4],[47.8,0.3],[50.5,0.35],[53.0,0.38],[55.8,0.32],[58.0,0.3],[61.2,0.28],[63.5,0.25],[66.8,0.22],[69.5,0.15],[42.4,-0.05],[44.1,-0.08],[46.0,-0.1],[48.6,-0.06],[50.9,-0.12],[52.7,-0.08],[54.9,-0.1],[56.8,-0.14],[59.5,-0.08],[62.0,-0.12],[64.9,-0.1],[67.8,-0.06],[70.8,-0.1],[73.3,-0.14],[76.0,-0.1],[77.5,-0.2],[78.5,-0.05],[80.5,-0.18],[81.5,-0.08],[84.5,-0.12],[86.0,-0.05],
[19.0,1.5],[44.5,1.6],[47.5,1.65],[39.5,1.05],[36.0,0.87],[32.0,0.7],[21.0,0.6],[48.0,0.65],[51.0,0.58],[55.0,0.62],[38.5,0.45],[12.5,0.5],[8.0,0.52],[17.0,0.5],[71.0,0.33],[74.5,0.1],[60.0,0.38],[62.0,0.35],[56.0,0.4],[54.0,0.42],[46.0,0.45],
[8.5,-0.58],[9.0,-0.55],[9.5,-0.8],[10.5,-1.07],[15.0,-0.8],[15.5,-1.02],[16.0,-0.85],[21.0,-0.52],[20.5,-0.42],[30.5,-0.55],[30.5,-1.35],[40.0,-0.92],[41.5,-1.82],[20.0,-2.0],[48.0,-0.5],[49.5,-0.83],[56.0,-0.85],[58.0,-0.83],[60.0,-0.7],[61.0,-0.88],[60.0,-1.48],[54.0,-1.38],[63.0,-1.28],[68.0,-0.83],[69.0,-1.02],[74.5,-1.07],[79.5,-1.43],[79.5,-0.37],[88.0,-0.13],[91.0,-0.03],[82.0,-0.05],[83.0,-0.12],[80.0,-0.15],[84.0,-0.08],[66.0,-0.5],[65.0,-0.45],[64.0,-0.3],[52.0,-0.35],[45.0,-0.4],[42.0,-0.3]
];

// x-axis titles, split into normal / sub / sup pieces
var h100Title = [['Predicted  H', ''], ['100', 'sub'], [' (m)', '']];
var gTitle = [['Predicted G (m', ''], ['2', 'sup'], [' ha', ''], ['\u22121', 'sup'], [')', '']];
var nTitle = [['Predicted N (1000 ha', ''], ['\u22121', 'sup'], [')', '']];
var dgTitle = [['Predicted D', ''], ['g', 'sub'], [' (cm)', '']];

var FONT = 'DejaVu Sans';

function alinear(px) {
    return Math.round(px - 0.5) + 0.5;
}

var cajaPlugin = {
    id: 'caja',
    beforeDraw: function (chart) {
        chart.ctx.letterSpacing = '0.6px';
    },
    afterDraw: function (chart) {
        var ctx = chart.ctx;
        var a = chart.chartArea;
        ctx.save();
        ctx.strokeStyle = '#000';
        ctx.lineWidth = 1;
        ctx.strokeRect(alinear(a.left), alinear(a.top), alinear(a.right) - alinear(a.left), alinear(a.bottom) - alinear(a.top));

        // x title with sub/superscripts
        var partes = chart.options.plugins.tituloX.partes;
        var x = chart.options.plugins.tituloX.x;
        var y = a.bottom + chart.options.plugins.tituloX.dy;
        ctx.fillStyle = '#000';
        ctx.textBaseline = 'alphabetic';
        ctx.textAlign = 'left';
        ctx.letterSpacing = '1px';
        for (var i in partes) {
            var txt = partes[i][0];
            var tipo = partes[i][1];
            var dy = 0;
            if (tipo === 'sub') {
                ctx.font = '13px "' + FONT + '"';
                dy = 4;
            } else if (tipo === 'sup') {
                ctx.font = '12px "' + FONT + '"';
                dy = -7;
            } else {
                ctx.font = '17px "' + FONT + '"';
            }
            ctx.fillText(txt, x, y + dy);
            x += ctx.measureText(txt).width + (tipo ? 1 : 0);
        }
        ctx.restore();
    }
};

function crearPanel(id, puntos, xMin, xMax, xTicks, xLabels, espacios, titulo, tituloX, yAncho, arriba, derecha, xAlto) {
    var datos = puntos.map(function (p) {
        return {x: p[0], y: p[1]};
    });
    return new Chart(document.getElementById(id), {
        type: 'scatter',
        data: {
            datasets: [{
                data: datos,
                pointStyle: 'rect',
                pointRadius: 0.85,
                pointBorderWidth: 0,
                backgroundColor: '#000',
                borderColor: '#000'
            }]
        },
        options: {
            responsive: false,
            animation: false,
            devicePixelRatio: 1,
            layout: {padding: {top: arriba, right: derecha, bottom: 0, left: 0}},
            plugins: {
                legend: {display: false},
                tooltip: {enabled: false},
                tituloX: {partes: titulo, x: tituloX, dy: 36}
            },
            scales: {
                x: {
                    type: 'linear',
                    min: xMin,
                    max: xMax,
                    afterBuildTicks: function (s) {
                        s.ticks = xTicks.map(function (v) {
                            return {value: v};
                        });
                    },
                    afterFit: function (s) {
                        s.height = xAlto;
                        s.paddingLeft = 0;
                        s.paddingRight = 0;
                    },
                    ticks: {
                        autoSkip: false,
                        maxRotation: 0,
                        padding: 1,
                        color: '#000',
                        font: {family: FONT, size: 16},
                        callback: function (v, i) {
                            // last label is pushed left, as in the original
                            return i === xLabels.length - 1 ? xLabels[i] + '\u00A0'.repeat(espacios) : xLabels[i];
                        }
                    },
                    grid: {drawOnChartArea: false, tickLength: 4, tickColor: '#000', tickWidth: 1, color: '#000'},
                    border: {display: true, color: '#000', width: 1}
                },
                y: {
                    min: -2.03,
                    max: 2.03,
                    afterBuildTicks: function (s) {
                        s.ticks = yTickValues.map(function (v) {
                            return {value: v};
                        });
                    },
                    afterFit: function (s) {
                        s.width = yAncho;
                    },
                    ticks: {
                        padding: 2,
                        color: '#000',
                        font: {family: FONT, size: 16},
                        callback: function (v, i) {
                            return yTickLabels[i];
                        }
                    },
                    grid: {
                        tickLength: 6,
                        tickColor: '#000',
                        tickWidth: 1,
                        color: function (c) {
                            return (c.tick && c.tick.value === 0) ? '#808080' : 'rgba(0,0,0,0)';
                        },
                        lineWidth: function (c) {
                            return (c.tick && c.tick.value === 0) ? 2 : 1;
                        }
                    },
                    border: {display: true, color: '#000', width: 1},
                    title: {
                        display: true,
                        text: 'Residual',
                        color: '#000',
                        font: {family: FONT, size: 16},
                        padding: {top: 9, bottom: 0}
                    }
                }
            }
        },
        plugins: [cajaPlugin]
    });
}

crearPanel('c1', h100Points, -0.25, 40.15, h100Ticks, h100TickLabels, 3, h100Title, 195, 94, 15, 22, 45);
crearPanel('c2', gPoints, -1.2, 80.3, gTicks, gTickLabels, 4, gTitle, 151, 89, 15, 2, 45);
crearPanel('c3', nPoints, -0.9, 200.6, nTicks, nTickLabels, 5, nTitle, 155, 94, 17, 22, 42);
crearPanel('c4', dgPoints, -1.5, 100.4, dgTicks, dgTickLabels, 6, dgTitle, 194, 89, 17, 2, 42);
</script>
</body>
</html>
